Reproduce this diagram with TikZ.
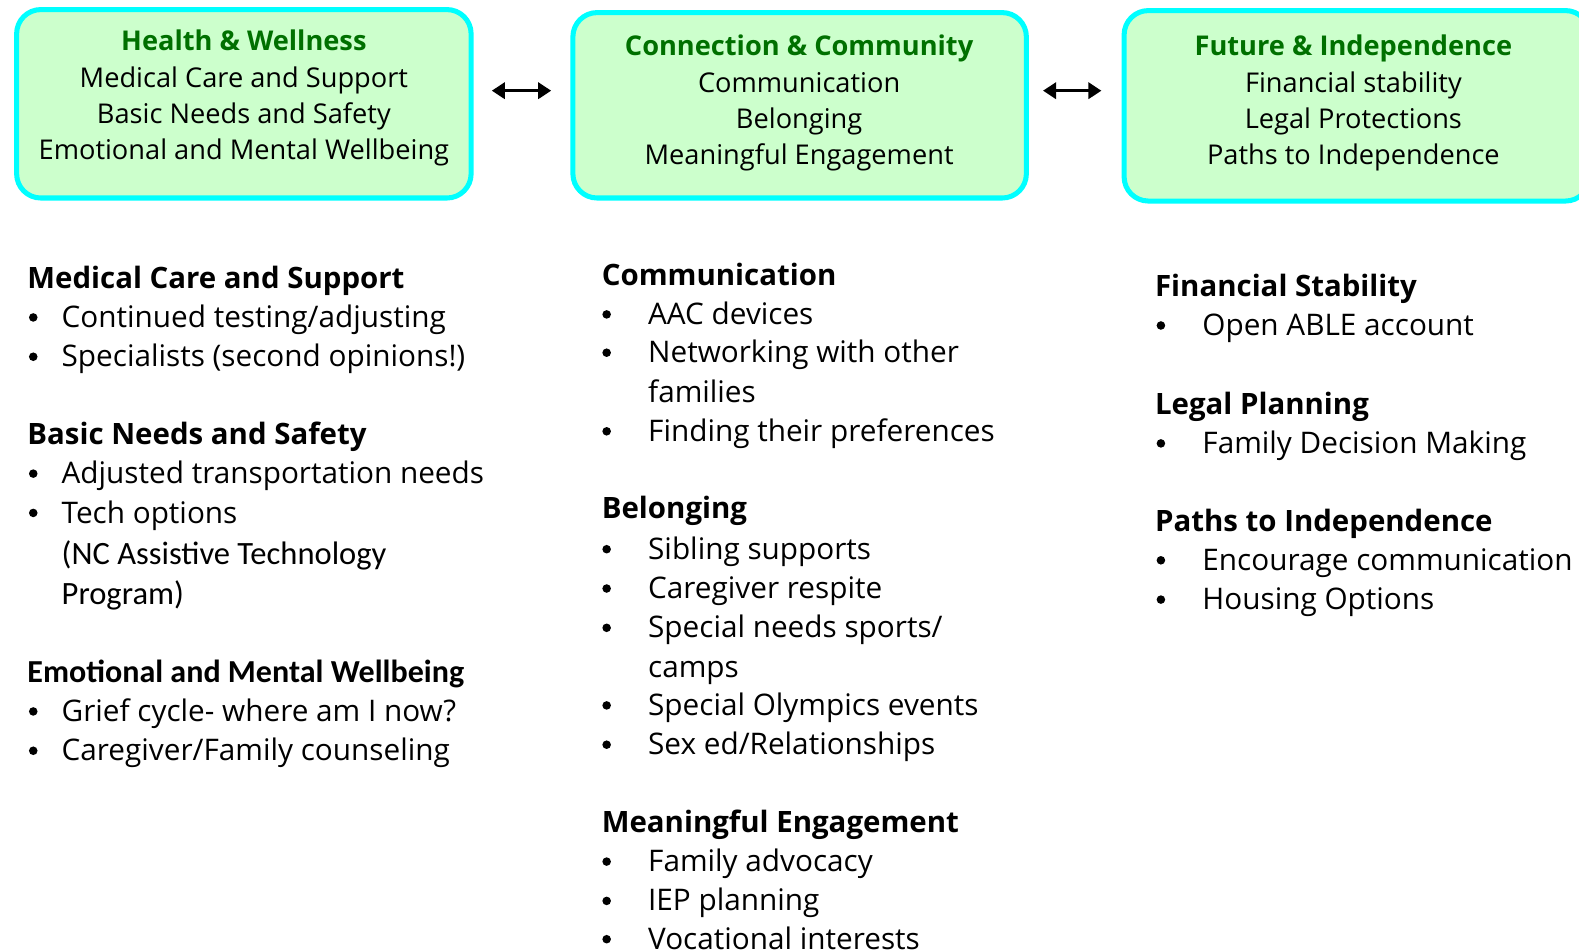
\documentclass[tikz,border=0pt]{standalone}
\usepackage{fontspec}
\setmainfont{Open Sans}
\newfontfamily\calfont{Carlito}
\usetikzlibrary{arrows.meta}
\definecolor{boxfill}{RGB}{204,255,204}
\definecolor{boxline}{RGB}{0,255,255}
\definecolor{ttl}{RGB}{0,112,0}
\tikzset{
 catbox/.style={draw=boxline, line width=5pt, fill=boxfill, rounded corners=24pt, inner sep=0pt},
 boxtxt/.style={anchor=base, inner sep=0pt, font=\fontsize{27}{30}\selectfont},
 boxttl/.style={anchor=base, inner sep=0pt, font=\fontsize{27}{30}\selectfont\bfseries, text=ttl},
 hd/.style={anchor=base west, inner sep=0pt, font=\fontsize{29.2}{32}\selectfont\bfseries},
 calhd/.style={anchor=base west, inner sep=0pt, font=\fontsize{31.8}{34}\selectfont\calfont\bfseries},
 itm/.style={anchor=base west, inner sep=0pt, font=\fontsize{29.5}{32}\selectfont},
 calitm/.style={anchor=base west, inner sep=0pt, font=\fontsize{32.3}{34}\selectfont\calfont},
 bul/.style={circle, fill=black, inner sep=0pt, minimum size=8.5pt},
 dbl/.style={{Triangle[length=13pt,width=16pt]}-{Triangle[length=13pt,width=16pt]}, line width=3.5pt},
}
\newcommand\mkhead[4]{\node[hd] (#1) at (#2,#3) {#4};}
\newcommand\mkitem[5]{\node[bul] (#1b) at (#2,#3-10) {}; \node[itm] (#1) at (#4,#3) {#5};}
\newcommand\mkcont[4]{\node[itm] (#1) at (#2,#3) {#4};}
\begin{document}
\begin{tikzpicture}[x=1pt,y=-1pt]
\useasboundingbox (0,0) rectangle (1566.9,943.7);
% category boxes
\node[catbox, minimum width=451pt, minimum height=187pt] (b1) at (242,103) {};
\node[catbox, minimum width=450pt, minimum height=184pt] (b2) at (793.5,104.5) {};
\node[catbox, minimum width=462pt, minimum height=189pt] (b3) at (1346.5,105) {};
% box texts
\node[boxttl] (b1t) at (242,50) {Health \& Wellness};
\node[boxtxt] (b1a) at (242,87) {Medical Care and Support};
\node[boxtxt] (b1b) at (242,123) {Basic Needs and Safety};
\node[boxtxt] (b1c) at (242,158) {Emotional and Mental Wellbeing};
\node[boxttl] (b2t) at (793,55) {Connection \& Community};
\node[boxtxt] (b2a) at (793,92) {Communication};
\node[boxtxt] (b2b) at (793,128) {Belonging};
\node[boxtxt] (b2c) at (793,163) {Meaningful Engagement};
\node[boxttl] (b3t) at (1343,55) {Future \& Independence};
\node[boxtxt] (b3a) at (1343,92) {Financial stability};
\node[boxtxt] (b3b) at (1343,128) {Legal Protections};
\node[boxtxt] (b3c) at (1343,163) {Paths to Independence};
% arrows
\draw[dbl] ([xshift=18pt,yshift=13pt]b1.east) -- ([xshift=-19pt,yshift=14.5pt]b2.west);
\draw[dbl] ([xshift=14pt,yshift=14.5pt]b2.east) -- ([xshift=-20pt,yshift=15pt]b3.west);
% column 1
\mkhead{h11}{27}{286}{Medical Care and Support}
\mkitem{i11}{33}{325}{61}{Continued testing/adjusting}
\mkitem{i12}{33}{364}{61}{Specialists (second opinions!)}
\mkhead{h12}{27}{441}{Basic Needs and Safety}
\mkitem{i13}{33}{480}{61}{Adjusted transportation needs}
\mkitem{i14}{33}{519}{61}{Tech options}
\node[calitm] (i14a) at (61,560) {(NC Assistive Technology};
\node[calitm] (i14b) at (61,600) {Program)};
\node[calhd] (h13) at (27,677) {Emotional and Mental Wellbeing};
\mkitem{i15}{33}{716}{61}{Grief cycle- where am I now?}
\mkitem{i16}{33}{755}{61}{Caregiver/Family counseling}
% column 2
\mkhead{h21}{597}{283}{Communication}
\mkitem{i21}{602}{322}{643}{AAC devices}
\mkitem{i22}{602}{360}{643}{Networking with other}
\mkcont{i22a}{643}{399}{families}
\mkitem{i23}{602}{438}{643}{Finding their preferences}
\mkhead{h22}{597}{515}{Belonging}
\mkitem{i24}{602}{555}{643}{Sibling supports}
\mkitem{i25}{602}{594}{643}{Caregiver respite}
\mkitem{i26}{602}{633}{643}{Special needs sports/}
\mkcont{i26a}{643}{672}{camps}
\mkitem{i27}{602}{710}{643}{Special Olympics events}
\mkitem{i28}{602}{749}{643}{Sex ed/Relationships}
\mkhead{h23}{597}{826}{Meaningful Engagement}
\mkitem{i29}{602}{865}{643}{Family advocacy}
\mkitem{i210}{602}{904}{643}{IEP planning}
\mkitem{i211}{602}{942}{643}{Vocational interests}
% column 3
\mkhead{h31}{1146}{294}{Financial Stability}
\mkitem{i31}{1152}{333}{1193}{Open ABLE account}
\mkhead{h32}{1146}{411}{Legal Planning}
\mkitem{i32}{1152}{450}{1193}{Family Decision Making}
\mkhead{h33}{1146}{527}{Paths to Independence}
\mkitem{i33}{1152}{566}{1193}{Encourage communication}
\mkitem{i34}{1152}{605}{1193}{Housing Options}
\end{tikzpicture}
\end{document}
